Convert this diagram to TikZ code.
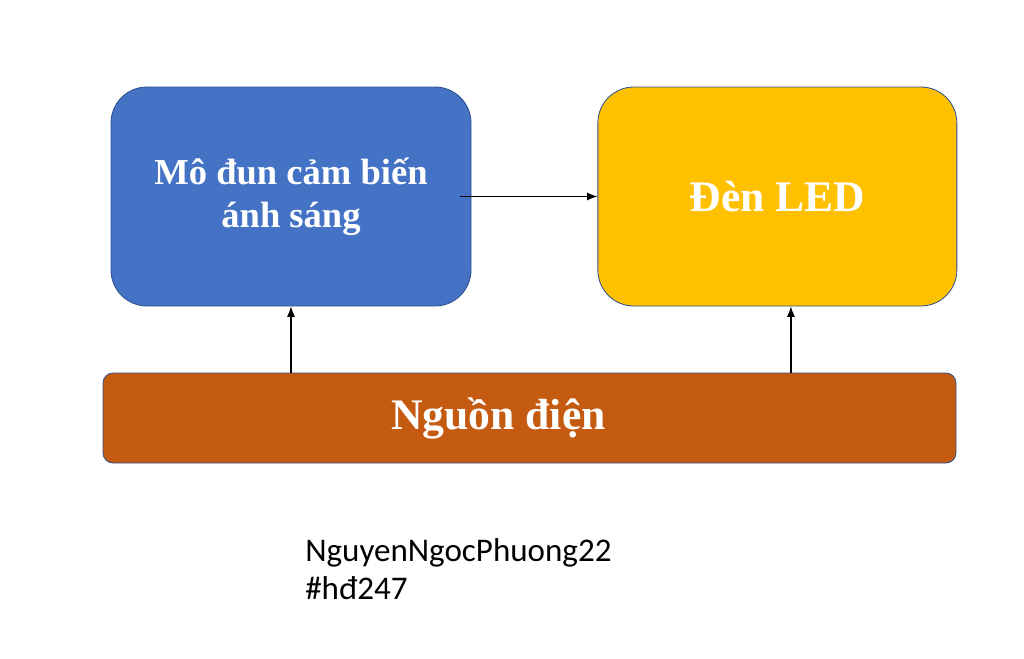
\documentclass[tikz,border=0pt]{standalone}
\usepackage{fontspec}
\setmainfont{Liberation Serif}
\newfontfamily\notefont{Carlito}
\usepackage{tikz}
\usetikzlibrary{positioning, arrows.meta}

\definecolor{sensorblue}{HTML}{4472C4}
\definecolor{ledyellow}{HTML}{FFC000}
\definecolor{powerorange}{HTML}{C55A11}
\definecolor{edgeblue}{HTML}{2F528F}

\begin{document}
\begin{tikzpicture}[every node/.style={align=center, text=white, font=\bfseries},
        feed/.style={-{Latex[length=0.26cm, width=0.2cm]}, line width=0.8pt}]
        \useasboundingbox (0,0) rectangle (25.6,-16.45);
        % Nodes
        \node (Sensor) [rectangle, draw=edgeblue, line width=0.6pt, fill=sensorblue, rounded corners=0.9cm,
            minimum width=9cm, minimum height=5.475cm, font=\bfseries\fontsize{26}{30.6}\selectfont]
            at (7.275,-4.9125) {Mô đun cảm biến\\ánh sáng};
        \node (Led) [rectangle, draw=edgeblue, line width=0.6pt, fill=ledyellow, rounded corners=0.9cm,
            minimum width=8.975cm, minimum height=5.475cm, right=3.15cm of Sensor,
            font=\bfseries\fontsize{31}{36}\selectfont] {Đèn LED};
        \node (Power) [rectangle, draw=edgeblue, line width=0.6pt, fill=powerorange, rounded corners=0.25cm,
            minimum width=21.325cm, minimum height=2.25cm, font=\bfseries\fontsize{31}{36}\selectfont]
            at (13.2375,-10.45) {Nguồn điện\hspace*{1.55cm}};
        \coordinate (LedFoot) at ([xshift=0.34cm]Led.south);

        % Arrows
        \draw[feed] ([xshift=-0.275cm]Sensor.east) -- (Led.west);
        \draw[feed] (Power.north -| Sensor.south) -- (Sensor.south);
        \draw[feed] (Power.north -| LedFoot) -- (LedFoot);

        % Note
        \node (Note) [anchor=west, align=left, text=black, inner sep=0pt,
            font=\notefont\fontsize{23.5}{26.9}\selectfont] at (7.625,-14.225) {NguyenNgocPhuong22\\\#hđ247};
    \end{tikzpicture}
\end{document}
